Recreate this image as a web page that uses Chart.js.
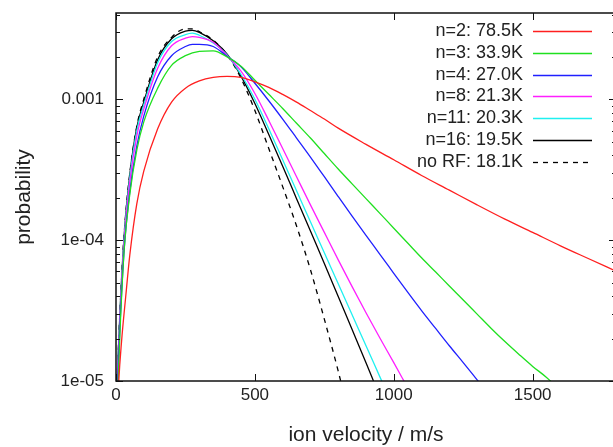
<!DOCTYPE html>
<html>
<head>
<meta charset="utf-8">
<script src="https://cdn.jsdelivr.net/npm/chart.js@4.4.0/dist/chart.umd.min.js"></script>
<style>
  html, body { margin: 0; padding: 0; background: #fff; overflow: hidden; }
  #wrap { width: 620px; height: 447px; }
</style>
</head>
<body>
<div id="wrap"><canvas id="grafico-velocidad" width="620" height="447"></canvas></div>
<script>
// ejes
const xTickValues = [0, 500, 1000, 1500];
const xTickLabels = ['0', '500', '1000', '1500'];
const yTickValues = [1e-5, 1e-4, 1e-3];
const yTickLabels = ['1e-05', '1e-04', '0.001'];

const legendLabels = ['n=2: 78.5K', 'n=3: 33.9K', 'n=4: 27.0K', 'n=8: 21.3K', 'n=11: 20.3K', 'n=16: 19.5K', 'no RF: 18.1K'];

// n=2
const vel2 = [5, 10, 20, 35, 50, 75, 100, 150, 200, 250, 300, 350, 400, 450, 500, 550, 600, 650, 700, 750, 800, 900, 1000, 1100, 1200, 1300, 1400, 1500, 1600, 1700, 1800];
const prob2 = [5.62e-6, 1.0e-5, 1.91e-5, 3.98e-5, 7.94e-5, 1.82e-4, 3.09e-4, 6.17e-4, 9.55e-4, 1.20e-3, 1.35e-3, 1.43e-3, 1.455e-3, 1.43e-3, 1.33e-3, 1.216e-3, 1.084e-3, 9.55e-4, 8.32e-4, 7.24e-4, 6.24e-4, 4.79e-4, 3.72e-4, 2.88e-4, 2.265e-4, 1.78e-4, 1.41e-4, 1.135e-4, 9.12e-5, 7.41e-5, 6.03e-5];

// n=3
const vel3 = [5, 15, 30, 50, 75, 100, 150, 200, 250, 300, 350, 400, 450, 500, 550, 600, 650, 700, 750, 800, 850, 900, 950, 1000, 1050, 1100, 1150, 1200, 1250, 1300, 1350, 1400, 1450, 1500, 1550, 1580];
const prob3 = [7.08e-6, 2.40e-5, 8.91e-5, 2.14e-4, 4.37e-4, 6.92e-4, 1.20e-3, 1.74e-3, 2.04e-3, 2.19e-3, 2.21e-3, 2.0e-3, 1.72e-3, 1.365e-3, 1.085e-3, 8.61e-4, 6.76e-4, 5.31e-4, 4.12e-4, 3.20e-4, 2.51e-4, 1.97e-4, 1.55e-4, 1.216e-4, 9.55e-5, 7.50e-5, 5.96e-5, 4.73e-5, 3.76e-5, 2.985e-5, 2.37e-5, 1.905e-5, 1.55e-5, 1.27e-5, 1.06e-5, 9.33e-6];

// n=4
const vel4 = [5, 15, 30, 50, 75, 100, 150, 200, 250, 275, 300, 350, 400, 450, 500, 550, 600, 650, 700, 750, 800, 850, 900, 950, 1000, 1050, 1100, 1150, 1200, 1250, 1300, 1320];
const prob4 = [8.91e-6, 2.63e-5, 8.91e-5, 2.24e-4, 4.68e-4, 7.59e-4, 1.445e-3, 2.04e-3, 2.37e-3, 2.455e-3, 2.455e-3, 2.37e-3, 2.02e-3, 1.70e-3, 1.30e-3, 9.77e-4, 7.24e-4, 5.31e-4, 3.89e-4, 2.82e-4, 2.04e-4, 1.48e-4, 1.08e-4, 7.94e-5, 5.82e-5, 4.27e-5, 3.16e-5, 2.37e-5, 1.78e-5, 1.35e-5, 1.02e-5, 9.12e-6];

// n=8
const vel8 = [4, 15, 30, 50, 75, 100, 150, 200, 250, 275, 300, 350, 400, 450, 500, 550, 600, 650, 700, 750, 800, 850, 900, 950, 1000, 1045];
const prob8 = [8.91e-6, 3.02e-5, 1.02e-4, 2.63e-4, 5.50e-4, 8.51e-4, 1.66e-3, 2.40e-3, 2.72e-3, 2.79e-3, 2.75e-3, 2.54e-3, 2.04e-3, 1.585e-3, 1.10e-3, 7.08e-4, 4.47e-4, 2.82e-4, 1.78e-4, 1.135e-4, 7.24e-5, 4.68e-5, 3.05e-5, 2.02e-5, 1.35e-5, 9.33e-6];

// n=11
const vel11 = [4, 15, 30, 50, 75, 100, 150, 200, 250, 275, 300, 350, 400, 450, 500, 550, 600, 650, 700, 750, 800, 850, 900, 950, 975];
const prob11 = [9.55e-6, 3.16e-5, 1.07e-4, 2.82e-4, 6.03e-4, 9.12e-4, 1.82e-3, 2.57e-3, 2.88e-3, 2.95e-3, 2.85e-3, 2.51e-3, 2.065e-3, 1.50e-3, 1.0e-3, 6.17e-4, 3.72e-4, 2.24e-4, 1.35e-4, 8.13e-5, 4.90e-5, 2.95e-5, 1.78e-5, 1.07e-5, 8.3e-6];

// n=16
const vel16 = [4, 15, 30, 50, 75, 100, 150, 200, 250, 275, 300, 350, 400, 450, 500, 550, 600, 650, 700, 750, 800, 850, 900, 935];
const prob16 = [1.0e-5, 3.31e-5, 1.12e-4, 2.95e-4, 6.31e-4, 9.55e-4, 1.91e-3, 2.69e-3, 3.05e-3, 3.09e-3, 2.99e-3, 2.60e-3, 2.09e-3, 1.46e-3, 9.33e-4, 5.62e-4, 3.35e-4, 1.97e-4, 1.16e-4, 6.84e-5, 3.98e-5, 2.32e-5, 1.35e-5, 9.12e-6];

// sin RF
const velNoRF = [4, 15, 30, 50, 75, 100, 150, 200, 250, 275, 300, 350, 400, 450, 500, 550, 600, 650, 700, 750, 800, 815];
const probNoRF = [1.02e-5, 3.39e-5, 1.15e-4, 3.02e-4, 6.46e-4, 1.0e-3, 2.0e-3, 2.75e-3, 3.16e-3, 3.16e-3, 3.02e-3, 2.63e-3, 2.065e-3, 1.41e-3, 8.32e-4, 4.47e-4, 2.40e-4, 1.26e-4, 6.17e-5, 2.75e-5, 1.175e-5, 8.91e-6];

const FONT = "'Liberation Sans', Arial, Helvetica, sans-serif";

function toPoints(vs, ps) {
  return vs.map((v, i) => ({ x: v, y: ps[i] }));
}

function serie(label, vs, ps, color, dash) {
  return {
    label,
    data: toPoints(vs, ps),
    borderColor: color,
    borderWidth: 1.3,
    borderDash: dash || [],
    pointRadius: 0,
    fill: false,
    cubicInterpolationMode: 'monotone'
  };
}

// marco con ticks hacia adentro, estilo gnuplot
const marco = {
  id: 'marco',
  afterDatasetsDraw(chart) {
    const { ctx, chartArea: a, scales: { x, y } } = chart;
    ctx.save();
    ctx.strokeStyle = '#111';
    ctx.lineWidth = 1;
    ctx.beginPath();
    xTickValues.forEach(v => {
      const px = Math.round(x.getPixelForValue(v)) + 0.5;
      ctx.moveTo(px, a.bottom); ctx.lineTo(px, a.bottom - 7);
      ctx.moveTo(px, a.top); ctx.lineTo(px, a.top + 7);
    });
    for (let e = -5; e <= -3; e++) {
      for (let m = 1; m <= 9; m++) {
        const v = m * Math.pow(10, e);
        if (v > y.max) break;
        const py = Math.round(y.getPixelForValue(v)) + 0.5;
        const len = m === 1 ? 7 : 4;
        ctx.moveTo(a.left, py); ctx.lineTo(a.left + len, py);
        ctx.moveTo(a.right, py); ctx.lineTo(a.right - len, py);
      }
    }
    ctx.stroke();
    ctx.lineWidth = 1.5;
    ctx.strokeRect(a.left, a.top, a.right - a.left, a.bottom - a.top);
    ctx.restore();
  }
};

// leyenda: texto alineado a la derecha, muestra de linea a su derecha
const leyenda = {
  id: 'leyenda',
  afterDraw(chart) {
    const { ctx } = chart;
    ctx.save();
    ctx.font = '18px ' + FONT;
    ctx.fillStyle = '#222';
    ctx.textAlign = 'right';
    ctx.textBaseline = 'middle';
    chart.data.datasets.forEach((ds, i) => {
      const yy = 31 + i * 21.8;
      ctx.fillText(ds.label, 523, yy);
      ctx.strokeStyle = ds.borderColor;
      ctx.lineWidth = 1.3;
      ctx.setLineDash(ds.borderDash);
      ctx.beginPath();
      ctx.moveTo(533, Math.round(yy) + 0.5);
      ctx.lineTo(592, Math.round(yy) + 0.5);
      ctx.stroke();
    });
    ctx.restore();
  }
};

const canvas = document.getElementById('grafico-velocidad');
new Chart(canvas.getContext('2d'), {
  type: 'line',
  data: {
    datasets: [
      serie(legendLabels[0], vel2, prob2, '#ff1f1f'),
      serie(legendLabels[1], vel3, prob3, '#1fe01f'),
      serie(legendLabels[2], vel4, prob4, '#2020ff'),
      serie(legendLabels[3], vel8, prob8, '#ff1fff'),
      serie(legendLabels[4], vel11, prob11, '#1ff0f0'),
      serie(legendLabels[5], vel16, prob16, '#000000'),
      serie(legendLabels[6], velNoRF, probNoRF, '#000000', [5, 5])
    ]
  },
  options: {
    responsive: false,
    animation: false,
    layout: { padding: { top: 13, right: 4, left: 0, bottom: 0 } },
    plugins: {
      legend: { display: false },
      tooltip: { enabled: false }
    },
    scales: {
      x: {
        type: 'linear',
        min: 0,
        max: 1800,
        afterBuildTicks: s => { s.ticks = xTickValues.map(v => ({ value: v })); },
        afterFit: s => { s.height = 66; s.paddingLeft = 0; s.paddingRight = 0; },
        grid: { display: false, drawTicks: false },
        border: { display: false },
        ticks: {
          autoSkip: false,
          maxRotation: 0,
          padding: 4,
          color: '#222',
          font: { family: FONT, size: 17 },
          callback: (v, i) => xTickLabels[i]
        },
        title: {
          display: true,
          text: 'ion velocity / m/s',
          color: '#222',
          font: { family: FONT, size: 21, lineHeight: 1.1 },
          padding: { top: 0, bottom: 0 }
        }
      },
      y: {
        type: 'logarithmic',
        min: 1e-5,
        max: 0.0041,
        afterBuildTicks: s => { s.ticks = yTickValues.map(v => ({ value: v })); },
        afterFit: s => { s.width = 116; s.paddingTop = 0; s.paddingBottom = 0; },
        grid: { display: false, drawTicks: false },
        border: { display: false },
        ticks: {
          autoSkip: false,
          padding: 12,
          color: '#222',
          font: { family: FONT, size: 17 },
          callback: (v, i) => yTickLabels[i]
        },
        title: {
          display: true,
          text: 'probability',
          color: '#222',
          font: { family: FONT, size: 21 },
          padding: { top: 12, bottom: 0 }
        }
      }
    }
  },
  plugins: [marco, leyenda]
});
</script>
</body>
</html>
